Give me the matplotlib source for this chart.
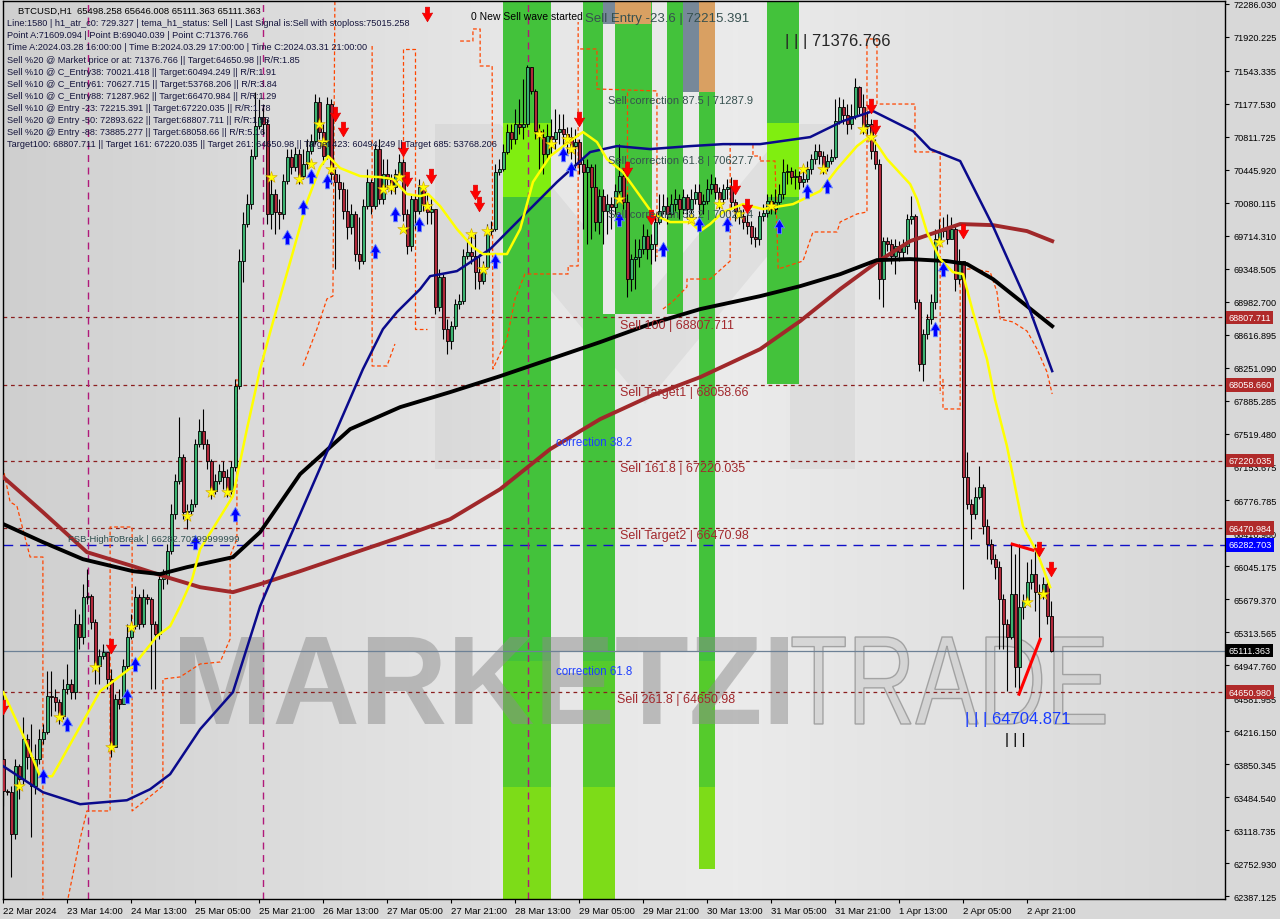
import numpy as np
import matplotlib
matplotlib.use('Agg')
import matplotlib.pyplot as plt
from matplotlib.path import Path
from matplotlib.patches import PathPatch, Rectangle, Polygon
from matplotlib.textpath import TextPath
from matplotlib.font_manager import FontProperties
from matplotlib.transforms import Affine2D, IdentityTransform
from matplotlib.colors import LinearSegmentedColormap

plt.rcParams['font.family'] = ['Liberation Sans', 'DejaVu Sans']

# ---- candles (H1 BTCUSD), open of bar 0 then close/high/low per bar ----
first_open = 63905
close = [63550, 63539, 63072, 63827, 63683, 64127, 63927, 63605, 63905, 64127,
         64205, 64604, 64593, 64538, 64382, 64682, 64737, 64649, 65403, 65259,
         65703, 65714, 65426, 64937, 65048, 65093, 64793, 64038, 64571, 64515,
         64937, 65259, 65381, 65703, 65403, 65703, 65681, 65403, 65292, 65903,
         65925, 66214, 66624, 66991, 67257, 66647, 66658, 66735, 67401, 67546,
         67401, 67213, 66880, 66991, 67102, 67035, 66880, 67146, 68045, 69433,
         69843, 70065, 70598, 70931, 71031, 70953, 69954, 70176, 69977, 69954,
         70321, 70587, 70476, 70620, 70376, 70509, 70654, 70765, 71198, 70865,
         70598, 71175, 70398, 70310, 70232, 69988, 69810, 69954, 69510, 69433,
         70043, 70310, 70043, 70676, 70121, 70398, 70343, 70254, 70398, 70532,
         69954, 69599, 70121, 69988, 70254, 70065, 69977, 70010, 68922, 69255,
         68678, 68545, 68711, 68955, 68989, 69488, 69533, 69488, 69311, 69211,
         69366, 69766, 69788, 70421, 70454, 70643, 70865, 70787, 70953, 70920,
         70953, 71586, 71320, 70876, 70809, 70620, 70820, 70787, 70865, 70898,
         70842, 70809, 70709, 70754, 70509, 70421, 70476, 70254, 69866, 70154,
         69988, 70065, 70032, 70210, 70376, 70088, 69233, 69455, 69477, 69566,
         69710, 69566, 69621, 69866, 69988, 70043, 69954, 70065, 70121, 70010,
         70143, 70010, 70121, 70199, 70065, 70099, 70232, 70287, 70199, 70121,
         70232, 70254, 70088, 69988, 69932, 69866, 69821, 69699, 69677, 69932,
         69966, 70099, 70010, 70088, 70176, 70421, 70432, 70365, 70376, 70310,
         70343, 70454, 70565, 70654, 70598, 70476, 70543, 70587, 70987, 71142,
         71053, 70953, 71042, 71364, 71142, 70931, 70953, 70654, 70509, 69233,
         69655, 69621, 69488, 69599, 69533, 69599, 69899, 69932, 68978, 68289,
         68622, 68789, 68978, 69677, 69766, 69788, 69677, 69788, 69233, 69433,
         67035, 66735, 66624, 66813, 66924, 66491, 66291, 66125, 66036, 65681,
         65403, 65259, 65736, 64926, 65592, 65659, 65870, 65958, 65759, 65736,
         65847, 65492, 65111]
high = [64016, 63572, 63605, 63905, 63849, 64371, 64182, 64293, 64071, 64238,
        64293, 64882, 64882, 64682, 64571, 64793, 64959, 64793, 65570, 65514,
        65847, 66014, 65736, 65459, 65126, 65181, 65070, 64904, 64626, 64682,
        65015, 65403, 65514, 65825, 65736, 65792, 65736, 65703, 65437, 65958,
        66014, 66291, 66735, 67068, 67701, 67290, 66735, 66791, 67457, 67679,
        67790, 67457, 67235, 67068, 67179, 67213, 67124, 67213, 68123, 69566,
        69977, 70176, 70676, 71309, 71231, 71175, 71009, 70343, 70232, 70121,
        70398, 70676, 70676, 70698, 70676, 70676, 70787, 70842, 71286, 71253,
        70953, 71253, 71231, 70454, 70398, 70310, 70232, 70065, 69988, 69921,
        70121, 70454, 70343, 70731, 70787, 70565, 70565, 70398, 70454, 70620,
        70565, 70010, 70176, 70176, 70343, 70287, 70176, 70121, 70010, 69344,
        69288, 68789, 68767, 69011, 69066, 69566, 69677, 69766, 69732, 69510,
        69433, 69843, 69877, 70509, 70565, 70731, 70953, 70953, 71120, 71231,
        71453, 71608, 71564, 71342, 70953, 70898, 70953, 71009, 71120, 71064,
        71064, 70920, 70920, 70898, 70787, 70565, 70565, 70509, 70509, 70232,
        70232, 70176, 70143, 70287, 70731, 70454, 70176, 69510, 69677, 69677,
        69843, 69788, 69732, 69954, 70176, 70176, 70143, 70176, 70232, 70176,
        70232, 70176, 70232, 70287, 70287, 70176, 70343, 70398, 70365, 70254,
        70287, 70343, 70365, 70121, 70032, 70010, 69954, 69877, 69810, 69988,
        70065, 70176, 70176, 70232, 70287, 70565, 70509, 70476, 70454, 70432,
        70454, 70543, 70620, 70731, 70731, 70654, 70620, 70676, 71231, 71253,
        71231, 71175, 71175, 71460, 71380, 71286, 71098, 71009, 70787, 70565,
        69699, 69699, 69677, 69677, 69655, 69677, 69954, 70154, 69954, 69011,
        68678, 68844, 69066, 69788, 69899, 69921, 69954, 69921, 69843, 69566,
        69433, 67313, 66791, 66924, 67157, 66958, 66569, 66347, 66180, 66103,
        65736, 65459, 66291, 66180, 66291, 65736, 66092, 66125, 66291, 65847,
        65925, 65903, 65659]
low = [63383, 63505, 62595, 63017, 63461, 63627, 63794, 63039, 63516, 63849,
       64071, 64182, 64382, 64438, 64293, 64349, 64626, 64571, 64571, 65126,
       65181, 65625, 65348, 64737, 64737, 65015, 64682, 63927, 64038, 64460,
       64515, 64904, 65237, 65348, 65348, 65370, 65625, 64682, 64682, 65237,
       65792, 65847, 66180, 66569, 66957, 66569, 66458, 66624, 66702, 67368,
       67346, 67124, 66791, 66846, 66957, 66902, 66813, 66846, 67102, 68012,
       69200, 69810, 70010, 70565, 70898, 70842, 69843, 69788, 69732, 69788,
       69899, 70287, 70398, 70432, 70287, 70343, 70454, 70620, 70731, 70787,
       70509, 70565, 70287, 69344, 70121, 69899, 69677, 69732, 69433, 69344,
       69399, 70010, 69954, 70010, 70065, 70065, 70232, 70176, 70176, 70343,
       69877, 69510, 69544, 69788, 69954, 69988, 69843, 69843, 68844, 68878,
       68567, 68400, 68456, 68678, 68900, 68955, 69455, 69399, 69122, 69122,
       69178, 69344, 69721, 69766, 70387, 70432, 70620, 70676, 70731, 70842,
       70787, 70920, 71286, 70787, 70454, 70398, 70565, 70620, 70676, 70731,
       70676, 70620, 70565, 70454, 70398, 69788, 69622, 69677, 69766, 69732,
       69622, 69732, 69788, 69954, 70176, 70010, 69033, 69100, 69122, 69366,
       69510, 69455, 69399, 69433, 69843, 69954, 69843, 69921, 69988, 69899,
       69954, 69899, 69954, 70065, 69954, 69954, 70065, 70176, 70121, 70010,
       70065, 70121, 70010, 69877, 69843, 69788, 69732, 69622, 69588, 69610,
       69877, 69921, 69954, 69954, 70065, 70121, 70287, 70287, 70232, 70232,
       70254, 70310, 70398, 70509, 70509, 70398, 70432, 70509, 70565, 70953,
       70953, 70842, 70898, 71009, 71064, 70842, 70842, 70565, 70454, 69011,
       68922, 69544, 69399, 69288, 69433, 69455, 69510, 69843, 68900, 68212,
       68101, 68567, 68734, 68900, 69622, 69699, 69622, 69677, 69100, 69178,
       65792, 66680, 66347, 66569, 66791, 66403, 66125, 66070, 65903, 65126,
       65126, 64660, 65237, 64704, 64626, 65459, 65625, 65792, 65548, 65237,
       65681, 65403, 65100]

# ---- indicator lines: (bar, price) ----
ma_black = [(0, 66514), (9.9, 66314), (19.9, 66125), (32.4, 65992), (39.2, 65959), (45.9, 66036),
            (57.4, 66147), (64.2, 66425), (74.2, 67069), (86.7, 67568), (99.2, 67812), (111.7, 67979),
            (124.2, 68156), (136.7, 68345), (149.2, 68534), (161.7, 68734), (174.2, 68900), (189.2, 69044),
            (199.2, 69155), (209.2, 69288), (218.4, 69444), (226.7, 69455), (235.9, 69433), (240.9, 69400),
            (247.4, 69233), (255.9, 68933), (262.2, 68711)]
ma_brown = [(0, 67035), (9.9, 66647), (20.9, 66203), (32.4, 66047), (40.9, 65925), (49.2, 65814),
            (57.4, 65759), (64.2, 65848), (74.2, 65992), (86.7, 66181), (99.2, 66369), (111.7, 66569),
            (124.2, 66902), (136.7, 67346), (149.2, 67679), (161.7, 67934), (174.2, 68145), (189.2, 68456),
            (199.2, 68767), (209.2, 69122), (218.4, 69422), (226.7, 69655), (239.2, 69844), (247.4, 69832),
            (255.9, 69766), (262.2, 69655)]
ma_navy = [(0, 63827), (9.9, 63539), (19.2, 63406), (30.9, 63450), (36.7, 63572), (41.7, 63739),
           (49.2, 64238), (57.4, 64649), (64.2, 65603), (69.2, 66125), (74.2, 66625), (89.9, 68234),
           (94.9, 68678), (98.4, 68867), (104.2, 69122), (106.7, 69266), (113.4, 69322), (121.7, 69566),
           (129.9, 69932), (138.4, 70310), (146.7, 70643), (153.4, 70709), (161.7, 70676), (171.7, 70709),
           (179.9, 70731), (189.2, 70731), (201.7, 70809), (209.9, 70987), (217.4, 71098), (227.4, 70876),
           (231.7, 70676), (239.2, 70543), (247.4, 69821), (255.9, 68978), (262.2, 68212)]
tema_yellow = [(0, 64649), (5.4, 64127), (9.2, 63716), (12.2, 63716), (14.2, 63872), (18.4, 64205),
               (24.2, 64660), (32.4, 64937), (38.4, 65270), (41.7, 65381), (44.2, 65603), (47.2, 65903),
               (49.2, 66236), (53.4, 66536), (57.4, 66824), (60.9, 67568), (64.2, 68234), (67.4, 68756),
               (71.7, 69422), (75.9, 70088), (79.2, 70476), (81.2, 70598), (84.2, 70465), (89.2, 70376),
               (94.2, 70365), (97.4, 70343), (100.9, 70177), (104.2, 70154), (106.2, 70177), (109.2, 70043),
               (113.4, 69788), (117.4, 69588), (119.9, 69511), (125.9, 69511), (129.2, 69788), (132.4, 70310),
               (136.7, 70598), (141.7, 70765), (144.9, 70865), (148.4, 70754), (150.9, 70565), (154.9, 70421),
               (159.2, 70154), (162.4, 69955), (166.7, 69866), (171.7, 69866), (174.2, 69766), (176.7, 69844),
               (179.9, 69977), (184.9, 70065), (189.9, 70010), (197.4, 70065), (204.2, 70210), (208.4, 70454),
               (213.4, 70709), (216.7, 70820), (218.7, 70709), (220.9, 70565), (226.7, 70287), (228.4, 70121),
               (230.9, 69755), (234.2, 69455), (237.4, 69311), (239.9, 69288), (242.4, 68867), (245.9, 68345),
               (247.9, 67901), (250.9, 67379), (254.9, 66491), (258.4, 66203), (261.7, 65814)]

# ATR trailing stop pieces (dashed orange-red)
trail_pieces = [
    [(-0.1, 67148), (1.7, 66760), (3.4, 66715), (6.7, 66149), (9.9, 66149), (9.9, 62300)],
    [(15.9, 62300), (19.2, 63020), (20.9, 63331), (26.7, 63331), (26.7, 66482), (32.2, 66482),
     (32.2, 63331), (39.9, 63608), (39.9, 64795), (44.2, 64818), (49.2, 64962), (54.2, 64984),
     (56.7, 65239), (56.7, 66160), (58.4, 66349), (58.4, 68125)],
    [(74.9, 68269), (78.4, 68680), (80.9, 69013), (82.4, 69046), (82.9, 72400)],
    [(92.2, 71820), (92.2, 68269), (95.9, 68269), (97.9, 68513)],
    [(99.9, 70566), (99.9, 71787), (102.9, 71787), (102.9, 68680), (105.9, 68680)],
    [(114.2, 71875), (117.4, 71875), (117.4, 72009), (119.2, 72009), (119.2, 71598), (122.2, 71598),
     (122.4, 68236), (125.9, 68569), (127.9, 69013), (130.4, 69290), (141.2, 69290), (141.2, 69379),
     (143.7, 69379), (143.7, 72086)],
    [(144.2, 71787), (148.4, 71787), (148.4, 71343), (163.4, 71321), (163.4, 69478)],
    [(155.9, 71310), (155.9, 69201)],
    [(164.9, 68901), (167.2, 68979), (170.9, 69146), (170.9, 69234), (176.7, 69234), (181.7, 69434),
     (181.7, 70732), (187.4, 70732), (187.4, 70599), (189.2, 70599), (189.2, 70544)],
    [(189.2, 70544), (192.9, 70544), (193.7, 69345), (199.9, 69434), (202.4, 69756), (208.4, 69756),
     (209.2, 69867), (213.4, 69956), (215.9, 69978), (215.9, 71898), (218.4, 71898), (218.4, 71176),
     (227.9, 71176), (227.9, 70644), (234.2, 70644), (234.2, 67958)],
    [(234.9, 68125), (234.9, 67792), (239.2, 67792), (239.2, 69345), (242.4, 69345), (246.7, 69312),
     (248.4, 69090), (249.2, 68790), (252.4, 68757), (255.9, 68657), (258.4, 68458), (260.9, 68202),
     (262.2, 67958)],
]

# levels
sell_levels = [68807.711, 68058.660, 67220.035, 66470.984, 64650.980]
fsb_level = 66282.703
last_price = 65111.363
wave_bars = [21.2, 64.9, 131.2]

# signal markers (bar, price)
red_arrows = [(0, 64482), (27, 65159), (83, 71064), (85, 70898), (100, 70676), (101, 70343), (106, 72174),
              (107, 70376), (118, 70199), (119, 70065), (144, 71009), (156, 70454), (162, 69921),
              (183, 70254), (186, 70043), (217, 71153), (218, 70920), (240, 69766), (259, 66236), (262, 66014)]
blue_arrows = [(10, 63716), (16, 64294), (31, 64604), (33, 64960), (48, 66314), (58, 66625), (71, 69699),
               (75, 70032), (77, 70376), (81, 70321), (93, 69544), (98, 69954), (104, 69843), (123, 69433),
               (140, 70620), (142, 70454), (154, 69899), (165, 69566), (174, 69843), (181, 69843),
               (194, 69821), (201, 70210), (206, 70265), (233, 68678), (235, 69344)]
stars = [(4, 63605), (14, 64371), (23, 64926), (27, 64038), (32, 65370), (46, 66602), (52, 66869),
         (56, 66869), (67, 70365), (74, 70343), (77, 70509), (79, 70953), (80, 70754), (82, 70454),
         (95, 70232), (97, 70254), (99, 70365), (100, 69788), (105, 70254), (106, 70043), (117, 69732),
         (120, 69344), (121, 69766), (134, 70842), (137, 70731), (141, 70787), (142, 70676), (154, 70121),
         (172, 69899), (179, 70065), (184, 69954), (192, 70043), (200, 70454), (205, 70454), (215, 70898),
         (217, 70809), (234, 69644), (256, 65648), (260, 65736)]
red_segments = [[(252.2, 66292), (257.4, 66225)], [(253.9, 64627), (259.2, 65237)]]

# zone stripes (bar range, lower price)
stripe_left = [124.9, 144.9, 152.9, 165.9, 173.9, 190.9]
stripe_right = [136.9, 152.9, 162.2, 169.9, 177.9, 198.9]
stripe_low = [62300, 62300, 68846, 68846, 62687, 68069]
gap_left, gap_right, gap_low, gap_high = 149.9, 152.9, 68846, 72064
block_left = [149.9, 152.9, 169.9, 173.9]
block_right = [152.9, 161.9, 173.9, 177.9]
block_low = [72064, 72064, 71310, 71310]
block_color = ['#778899', '#d9a062', '#778899', '#d9a062']

yticks = [72286.030, 71920.225, 71543.335, 71177.530, 70811.725, 70445.920, 70080.115, 69714.310,
          69348.505, 68982.700, 68616.895, 68251.090, 67885.285, 67519.480, 67153.675, 66776.785,
          66410.980, 66045.175, 65679.370, 65313.565, 64947.760, 64581.955, 64216.150, 63850.345,
          63484.540, 63118.735, 62752.930, 62387.125]
xtick_labels = ['22 Mar 2024', '23 Mar 14:00', '24 Mar 13:00', '25 Mar 05:00', '25 Mar 21:00',
                '26 Mar 13:00', '27 Mar 05:00', '27 Mar 21:00', '28 Mar 13:00', '29 Mar 05:00',
                '29 Mar 21:00', '30 Mar 13:00', '31 Mar 05:00', '31 Mar 21:00', '1 Apr 13:00',
                '2 Apr 05:00', '2 Apr 21:00']

info_lines = [
    'Line:1580 | h1_atr_c0: 729.327 | tema_h1_status: Sell | Last Signal is:Sell with stoploss:75015.258',
    'Point A:71609.094 | Point B:69040.039 | Point C:71376.766',
    'Time A:2024.03.28 16:00:00 | Time B:2024.03.29 17:00:00 | Time C:2024.03.31 21:00:00',
    'Sell %20 @ Market price or at: 71376.766 || Target:64650.98 || R/R:1.85',
    'Sell %10 @ C_Entry38: 70021.418 || Target:60494.249 || R/R:1.91',
    'Sell %10 @ C_Entry61: 70627.715 || Target:53768.206 || R/R:3.84',
    'Sell %10 @ C_Entry88: 71287.962 || Target:66470.984 || R/R:1.29',
    'Sell %10 @ Entry -23: 72215.391 || Target:67220.035 || R/R:1.78',
    'Sell %20 @ Entry -50: 72893.622 || Target:68807.711 || R/R:1.93',
    'Sell %20 @ Entry -88: 73885.277 || Target:68058.66 || R/R:5.16',
    'Target100: 68807.711 || Target 161: 67220.035 || Target 261: 64650.98 || Target 423: 60494.249 || Target 685: 53768.206',
]

W, H = 1280, 920
fig = plt.figure(figsize=(W / 100, H / 100), dpi=100, facecolor='#d8d8d8')
ax = fig.add_axes([3 / W, 20 / H, 1222 / W, 898 / H])
ymin, ymax = 62353.9, 72319.3
xmin, xmax = -0.075, 305.4

# background gradient
cm = LinearSegmentedColormap.from_list('bg', [(0, '#cfcfcf'), (0.4, '#e6e6e6'), (0.6, '#ebebeb'), (1, '#d7d7d7')])
ax.imshow(np.linspace(0, 1, 256)[None, :], extent=[0, 1, 0, 1], transform=ax.transAxes,
          aspect='auto', cmap=cm, zorder=-10)

# faint M logo
m_px = [(435, 470), (435, 125), (500, 125), (645, 300), (790, 125), (855, 125), (855, 470),
        (790, 470), (790, 230), (645, 405), (500, 230), (500, 470)]
ax.add_patch(Polygon([(x, H - y) for x, y in m_px], closed=True, transform=IdentityTransform(),
                     fc='black', alpha=0.045, ec='none', zorder=-5))

# stripes
for x0, x1, lo in zip(stripe_left, stripe_right, stripe_low):
    ax.add_patch(Rectangle((x0, lo), x1 - x0, ymax + 500 - lo, fc='#43c23b', ec='none', zorder=0.5))
    if lo < 64000:
        ax.add_patch(Rectangle((x0, 63300), x1 - x0, 1700, fc='#55cb2c', ec='none', zorder=0.55))
        ax.add_patch(Rectangle((x0, lo), x1 - x0, 63600 - lo, fc='#7ddc18', ec='none', zorder=0.56))
ax.add_patch(Rectangle((gap_left, gap_low), gap_right - gap_left, gap_high - gap_low, fc='#e8e8e8',
                       ec='none', zorder=0.57))
for x0, x1 in [(stripe_left[0], stripe_right[0]), (stripe_left[5], stripe_right[5])]:
    ax.add_patch(Rectangle((x0, 70140), x1 - x0, 820, fc='#80ee10', ec='none', zorder=0.55))
for x0, x1, lo, col in zip(block_left, block_right, block_low, block_color):
    ax.add_patch(Rectangle((x0, lo), x1 - x0, ymax + 500 - lo, fc=col, ec='none', zorder=0.6))


# watermark
def word(s, box, weight, fc, ec, alpha, lw):
    tp = TextPath((0, 0), s, size=100, prop=FontProperties(family='Liberation Sans', weight=weight))
    e = tp.get_extents()
    x0, y0, x1, y1 = box
    tr = Affine2D().translate(-e.x0, -e.y0).scale((x1 - x0) / e.width, (y1 - y0) / e.height).translate(x0, H - y1)
    ax.add_patch(PathPatch(tr.transform_path(tp), transform=IdentityTransform(), fc=fc, ec=ec,
                           alpha=alpha, lw=lw, zorder=0.8))


word('MARKETZI', (180, 638, 788, 725), 'bold', '#8c8c8c', 'none', 0.5, 0)
word('TRADE', (792, 638, 1105, 725), 'normal', '#cfcfcf', '#8a8a8a', 0.7, 1.0)

# levels
for lv in sell_levels:
    ax.axhline(lv, color='#8b1f1f', ls=(0, (3, 3)), lw=0.9, zorder=1.5)
ax.axhline(fsb_level, color='#1010c8', ls=(0, (7, 5)), lw=1.0, zorder=1.5)
ax.axhline(last_price, color='#6d8196', lw=0.9, zorder=1.5)
for b in wave_bars:
    ax.axvline(b, color='#b0187a', ls=(0, (5, 4)), lw=1.0, zorder=1.5)

for piece in trail_pieces:
    px, py = np.array(piece).T
    ax.plot(px, py, color='#ff4500', ls=(0, (3, 2)), lw=0.9, zorder=2)

# candles
c = np.array(close, float)
o = np.r_[first_open, c[:-1]]
hi = np.maximum(np.array(high, float), np.maximum(o, c))
lo = np.minimum(np.array(low, float), np.minimum(o, c))
idx = np.arange(len(c))
up = c >= o
ax.vlines(idx, lo, hi, color='black', lw=0.8, zorder=3)
bot = np.minimum(o, c)
hgt = np.maximum(np.abs(c - o), 12)
ax.bar(idx[up], hgt[up], bottom=bot[up], width=0.72, color='#3cb371', edgecolor='black', lw=0.6, zorder=3.1)
ax.bar(idx[~up], hgt[~up], bottom=bot[~up], width=0.72, color='#b0283a', edgecolor='black', lw=0.6, zorder=3.1)

# moving averages
for pts, col, lw, z in [(ma_brown, '#a0282a', 2.8, 4), (ma_black, '#000000', 2.8, 4.1),
                        (ma_navy, '#0a0a8c', 1.8, 4.2), (tema_yellow, '#ffff00', 1.8, 4.3)]:
    px, py = np.array(pts).T
    ax.plot(px, py, color=col, lw=lw, zorder=z, solid_joinstyle='round')

for seg in red_segments:
    px, py = np.array(seg).T
    ax.plot(px, py, color='#ff0000', lw=2.2, zorder=4.5)

# markers
down = Path([(-0.28, 1), (0.28, 1), (0.28, 0.15), (0.7, 0.2), (0, -1), (-0.7, 0.2), (-0.28, 0.15), (-0.28, 1)],
            [Path.MOVETO] + [Path.LINETO] * 6 + [Path.CLOSEPOLY])
upm = Path(down.vertices * [1, -1], down.codes)
rb, rp = np.array(red_arrows).T
ax.scatter(rb, rp, marker=down, s=110, c='#ff0000', edgecolors='#e00000', lw=0.5, zorder=6)
bb, bp = np.array(blue_arrows).T
ax.scatter(bb, bp, marker=upm, s=110, c='#0000ff', edgecolors='#6a8cff', lw=0.6, zorder=6)
sb, sp = np.array(stars).T
ax.scatter(sb, sp, marker='*', s=75, c='#ffff00', edgecolors='#d0a000', lw=0.4, zorder=6)

# chart texts
txt_red = '#a2282d'
for s, (xb, yp) in zip(['Sell 100 | 68807.711', 'Sell Target1 | 68058.66', 'Sell 161.8 | 67220.035',
                        'Sell Target2 | 66470.98', 'Sell 261.8 | 64650.98'],
                       [(154.2, 68724), (154.2, 67980), (154.2, 67137), (154.2, 66393), (153.4, 64574)]):
    ax.text(xb, yp, s, color=txt_red, fontsize=9, va='center', ha='left', zorder=7)
ax.text(138.2, 67426, 'correction 38.2', color='#1f3fff', fontsize=8.3, va='center', zorder=7)
ax.text(138.2, 64884, 'correction 61.8', color='#1f3fff', fontsize=8.3, va='center', zorder=7)
for s, yp in [('Sell correction 87.5 | 71287.9', 71221), ('Sell correction 61.8 | 70627.7', 70555),
              ('Sell correction 38.2 | 70021.4', 69956)]:
    ax.text(151.2, yp, s, color='#36504f', fontsize=8, va='center', zorder=7)
ax.text(145.4, 72131, 'Sell Entry -23.6 | 72215.391', color='#36504f', fontsize=9.5, va='center', zorder=7)
ax.text(116.9, 72153, '0 New Sell wave started', color='black', fontsize=7.5, va='center', zorder=7)
ax.text(195.4, 71886, '| | | 71376.766', color='#262626', fontsize=12, va='center', zorder=7)
ax.text(240.4, 64362, '| | | 64704.871', color='#1a3cff', fontsize=12, va='center', zorder=7)
ax.text(250.4, 64130, '| | |', color='black', fontsize=11, va='center', zorder=7)
ax.text(16.2, 66349, 'FSB-HighToBreak | 66282.70299999999', color='#2f4f4f', fontsize=6.8, va='center', zorder=7)

fig.text(18 / W, 1 - 11 / H, 'BTCUSD,H1  65498.258 65646.008 65111.363 65111.363', fontsize=6.8,
         color='black', va='center')
for k, s in enumerate(info_lines):
    fig.text(7 / W, 1 - (23.8 + 12.1 * k) / H, s, fontsize=6.6, color='#14143c', va='center')

# axes
ax.set_xlim(xmin, xmax)
ax.set_ylim(ymin, ymax)
ax.yaxis.tick_right()
ax.set_yticks(yticks)
ax.set_yticklabels(['%.3f' % v for v in yticks])
ax.set_xticks(np.arange(len(xtick_labels)) * 16)
ax.set_xticklabels(xtick_labels, ha='left')
ax.tick_params(axis='y', labelsize=6.6, length=3, pad=3, colors='black')
ax.tick_params(axis='x', labelsize=6.8, length=3, pad=2, colors='black')
for sp in ax.spines.values():
    sp.set_color('black')
    sp.set_linewidth(1)

for val, fc in [(68807.711, '#b02a2a'), (68058.660, '#b02a2a'), (67220.035, '#b02a2a'),
                (66470.984, '#b02a2a'), (66282.703, '#0000ff'), (65111.363, '#000000'), (64650.980, '#b02a2a')]:
    ax.annotate('%.3f' % val, xy=(1, val), xycoords=('axes fraction', 'data'), xytext=(2.5, 0),
                textcoords='offset points', fontsize=6.6, color='white', va='center', ha='left',
                bbox=dict(boxstyle='square,pad=0.25', fc=fc, ec='none'), annotation_clip=False, zorder=8)

fig.savefig('out.png', dpi=100, facecolor=fig.get_facecolor())
